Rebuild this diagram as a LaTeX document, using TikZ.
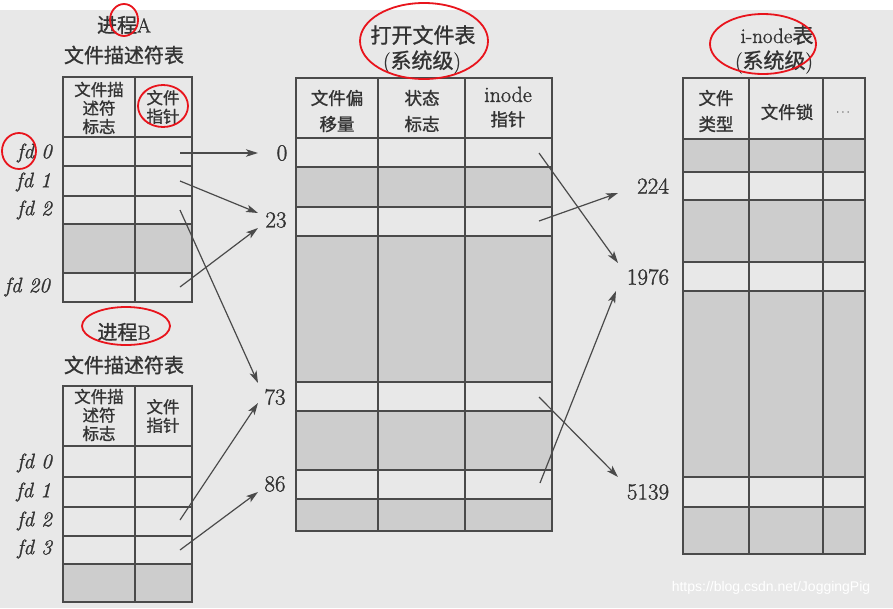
\documentclass[tikz,border=0pt]{standalone}
\usepackage{fontspec}
\newfontfamily\cjk[FakeBold=1.2]{Noto Sans CJK SC}
\newfontfamily\heavyrm[FakeBold=1.3]{Latin Modern Roman}
\newfontfamily\wmfont{Liberation Sans}
\usetikzlibrary{arrows.meta,calc}
\definecolor{bgpaper}{HTML}{E8E8E8}
\definecolor{cellgrey}{HTML}{CDCDCD}
\definecolor{ink}{HTML}{4A4A4A}
\definecolor{txt}{HTML}{333333}
\definecolor{pen}{HTML}{E8141C}
\begin{document}
\begin{tikzpicture}[x=1pt,y=-1pt,
  outer/.style={draw=ink,line width=2.2pt},
  inner/.style={draw=ink,line width=1.3pt},
  shade/.style={fill=cellgrey},
  ptr/.style={draw=ink,line width=1.2pt,-{Stealth[length=12pt,width=7.5pt,inset=3pt]}},
  ttl/.style={text=txt,font=\cjk\fontsize{20}{22}\selectfont,inner sep=0pt},
  hdr/.style={text=txt,align=center,inner sep=0pt,font=\cjk\fontsize{16.5}{18.5}\selectfont},
  hdrwide/.style={text=txt,align=center,inner sep=0pt,font=\cjk\fontsize{17.5}{26}\selectfont},
  num/.style={text=txt,inner sep=0pt,font=\heavyrm\fontsize{23}{23}\selectfont},
  fdl/.style={text=txt,inner sep=0pt,anchor=east,font=\heavyrm\fontsize{21}{21}\selectfont\itshape},
  penmark/.style={draw=pen,line width=1.8pt}
]
\useasboundingbox (0,0) rectangle (893,608);
\fill[white] (0,0) rectangle (893,10);
\fill[bgpaper] (0,10) rectangle (893,608);

% ---------- Process A table ----------
\fill[shade] (63,224) rectangle (192,273);
\foreach \yy in {137,166,196,224,273} \draw[inner] (63,\yy) -- (192,\yy);
\draw[inner] (135,77) -- (135,302);
\draw[outer] (63,77) rectangle (192,302);

% ---------- Process B table ----------
\fill[shade] (63,564) rectangle (192,602);
\foreach \yy in {446,477,507,536,564} \draw[inner] (63,\yy) -- (192,\yy);
\draw[inner] (135,386) -- (135,602);
\draw[outer] (63,386) rectangle (192,602);

% ---------- Open file table ----------
\fill[shade] (296,167) rectangle (552,207);
\fill[shade] (296,236) rectangle (552,382);
\fill[shade] (296,411) rectangle (552,470);
\fill[shade] (296,499) rectangle (552,531);
\foreach \yy in {138,167,207,236,382,411,470,499} \draw[inner] (296,\yy) -- (552,\yy);
\draw[inner] (378,78) -- (378,531);
\draw[inner] (465,78) -- (465,531);
\draw[outer] (296,78) rectangle (552,531);

% ---------- i-node table ----------
\fill[shade] (683,139) rectangle (865,172);
\fill[shade] (683,200) rectangle (865,262);
\fill[shade] (683,291) rectangle (865,477);
\fill[shade] (683,507) rectangle (865,554);
\foreach \yy in {139,172,200,262,291,477,507} \draw[inner] (683,\yy) -- (865,\yy);
\draw[inner] (749,78) -- (749,554);
\draw[inner] (823,78) -- (823,554);
\draw[outer] (683,78) rectangle (865,554);

% ---------- titles ----------
\node[ttl] (tA) at (124,25) {进程{\heavyrm A}};
\node[ttl] (tAt) at (124,55) {文件描述符表};
\node[ttl] (tB) at (124,332) {进程{\heavyrm B}};
\node[ttl] (tBt) at (124,365) {文件描述符表};
\node[ttl,font=\cjk\fontsize{21}{23}\selectfont] (tO) at (423,35) {打开文件表};
\node[ttl,font=\cjk\fontsize{21}{23}\selectfont] (tOs) at (422,62) {{\heavyrm (}系统级{\heavyrm )}};
\node[ttl,font=\cjk\fontsize{21}{23}\selectfont] (tI) at (777,35) {{\heavyrm i-node}表};
\node[ttl,font=\cjk\fontsize{21}{23}\selectfont] (tIs) at (774,62) {{\heavyrm (}系统级{\heavyrm )}};

% ---------- headers ----------
\node[hdr] (hA1) at (99,108) {文件描\\述符\\标志};
\node[hdr] (hA2) at (163,107) {文件\\指针};
\node[hdr] (hB1) at (99,415) {文件描\\述符\\标志};
\node[hdr] (hB2) at (163,416) {文件\\指针};
\node[hdrwide] (hO1) at (337,111) {文件偏\\移量};
\node[hdrwide] (hO2) at (422,111) {状态\\标志};
\node[hdrwide] (hO3) at (508,107) {{\heavyrm\fontsize{22}{22}\selectfont inode}\\[-2pt]指针};
\node[hdrwide] (hI1) at (716,111) {文件\\类型};
\node[hdrwide] (hI2) at (787,112) {文件锁};
\node[text=txt,inner sep=0pt,font=\fontsize{12}{12}\selectfont] (hI3) at (843,113) {$\cdots$};

% ---------- fd labels ----------
\node[fdl] (fA0) at (52,153) {fd 0};
\node[fdl] (fA1) at (51,182) {fd 1};
\node[fdl] (fA2) at (52,210) {fd 2};
\node[fdl] (fA20) at (50,287) {fd 20};
\node[fdl] (fB0) at (52,463) {fd 0};
\node[fdl] (fB1) at (51,492) {fd 1};
\node[fdl] (fB2) at (52,521) {fd 2};
\node[fdl] (fB3) at (52,549) {fd 3};

% ---------- numbers ----------
\node[num] (n0) at (282,153) {0};
\node[num] (n23) at (276,220) {23};
\node[num] (n73) at (275,397) {73};
\node[num] (n86) at (275,484) {86};
\node[num] (n224) at (653,186) {224};
\node[num] (n1976) at (648,277) {1976};
\node[num] (n5139) at (648,492) {5139};

% ---------- arrow anchors ----------
\coordinate (sA0) at (180,153);  \coordinate (eA0) at (258,153);
\coordinate (sA1) at (180,181);  \coordinate (eA1) at (258,213);
\coordinate (sA2) at (180,210);  \coordinate (eA2) at (258,383);
\coordinate (sA20) at (180,287); \coordinate (eA20) at (258,228);
\coordinate (sB2) at (180,520);  \coordinate (eB2) at (258,403);
\coordinate (sB3) at (180,550);  \coordinate (eB3) at (258,492);
\coordinate (sO0) at (539,153);  \coordinate (eO0) at (618,263);
\coordinate (sO23) at (539,221); \coordinate (eO23) at (618,193);
\coordinate (sO73) at (539,397); \coordinate (eO73) at (618,477);
\coordinate (sO86) at (540,483); \coordinate (eO86) at (616,291);

\draw[ptr] (sA0) -- (eA0);
\draw[ptr] (sA1) -- (eA1);
\draw[ptr] (sA2) -- (eA2);
\draw[ptr] (sA20) -- (eA20);
\draw[ptr] (sB2) -- (eB2);
\draw[ptr] (sB3) -- (eB3);
\draw[ptr] (sO0) -- (eO0);
\draw[ptr] (sO23) -- (eO23);
\draw[ptr] (sO73) -- (eO73);
\draw[ptr] (sO86) -- (eO86);

% ---------- red pen annotations ----------
\draw[penmark] (124,20) ellipse [x radius=14, y radius=16];
\draw[penmark] (163,106) ellipse [x radius=25, y radius=21];
\draw[penmark] (19,151) ellipse [x radius=17, y radius=18];
\draw[penmark] (126,326) ellipse [x radius=44, y radius=19];
\draw[penmark] (424,41) ellipse [x radius=64, y radius=38];
\draw[penmark] (763,44) ellipse [x radius=53, y radius=30];

% ---------- watermark ----------
\node[text=white,inner sep=0pt,font=\wmfont\fontsize{14}{14}\selectfont] (wm) at (771,588) {https://blog.csdn.net/JoggingPig};
\end{tikzpicture}
\end{document}
